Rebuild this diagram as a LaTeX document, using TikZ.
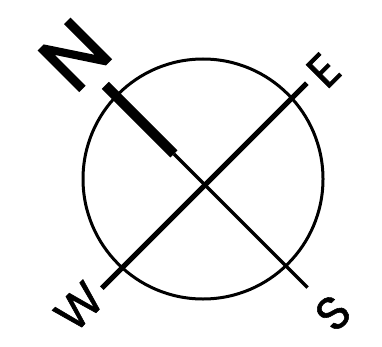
\documentclass[tikz,border=0pt]{standalone}
\usepackage{fontspec}
\setmainfont{Poppins}
\newfontfamily\literafont[FakeBold=1.2]{Poppins}
\newfontfamily\literamarefont[FakeBold=2]{Poppins}
\usetikzlibrary{calc}
\tikzset{
  cerc/.style    = {draw, line width=3pt},
  ac/.style      = {line width=10pt, line cap=butt},
  axa/.style     = {line width=3.5pt},
  axagroasa/.style = {line width=5pt},
  litera/.style  = {font=\literafont\fontsize{47}{47}\selectfont, rotate=45, inner sep=0pt},
  literamare/.style = {litera, font=\literamarefont\fontsize{82}{82}\selectfont}
}

\begin{document}
\begin{tikzpicture}
        \useasboundingbox (0pt,0pt) rectangle (382pt,346pt);
        \coordinate (centru) at (205pt,161pt);
        \draw[cerc] (203pt,167pt) circle[radius=120pt];

        % ac nord-sud
        \coordinate (nordvarf) at ($(centru)+(135:141pt)$);
        \coordinate (nordcapat) at ($(centru)+(135:44pt)$);
        \coordinate (sudcapat) at ($(centru)+(-45:145pt)$);
        \draw[axa] (nordcapat) -- (sudcapat);
        \draw[ac] (nordvarf) -- (nordcapat);

        % axa vest-est
        \coordinate (vestcapat) at ($(centru)+(225:146pt)$);
        \coordinate (estcapat) at ($(centru)+(45:144pt)$);
        \draw[axagroasa] (vestcapat) -- (estcapat);

        \node[literamare] (nord) at ($(centru)+(135:184pt)$) {N};
        \node[litera] (est) at ($(centru)+(44:165pt)$) {E};
        \node[litera] (vest) at ($(centru)+(224:175pt)$) {W};
        \node[litera] (sud) at ($(centru)+(-45:181pt)$) {S};
    \end{tikzpicture}
\end{document}
